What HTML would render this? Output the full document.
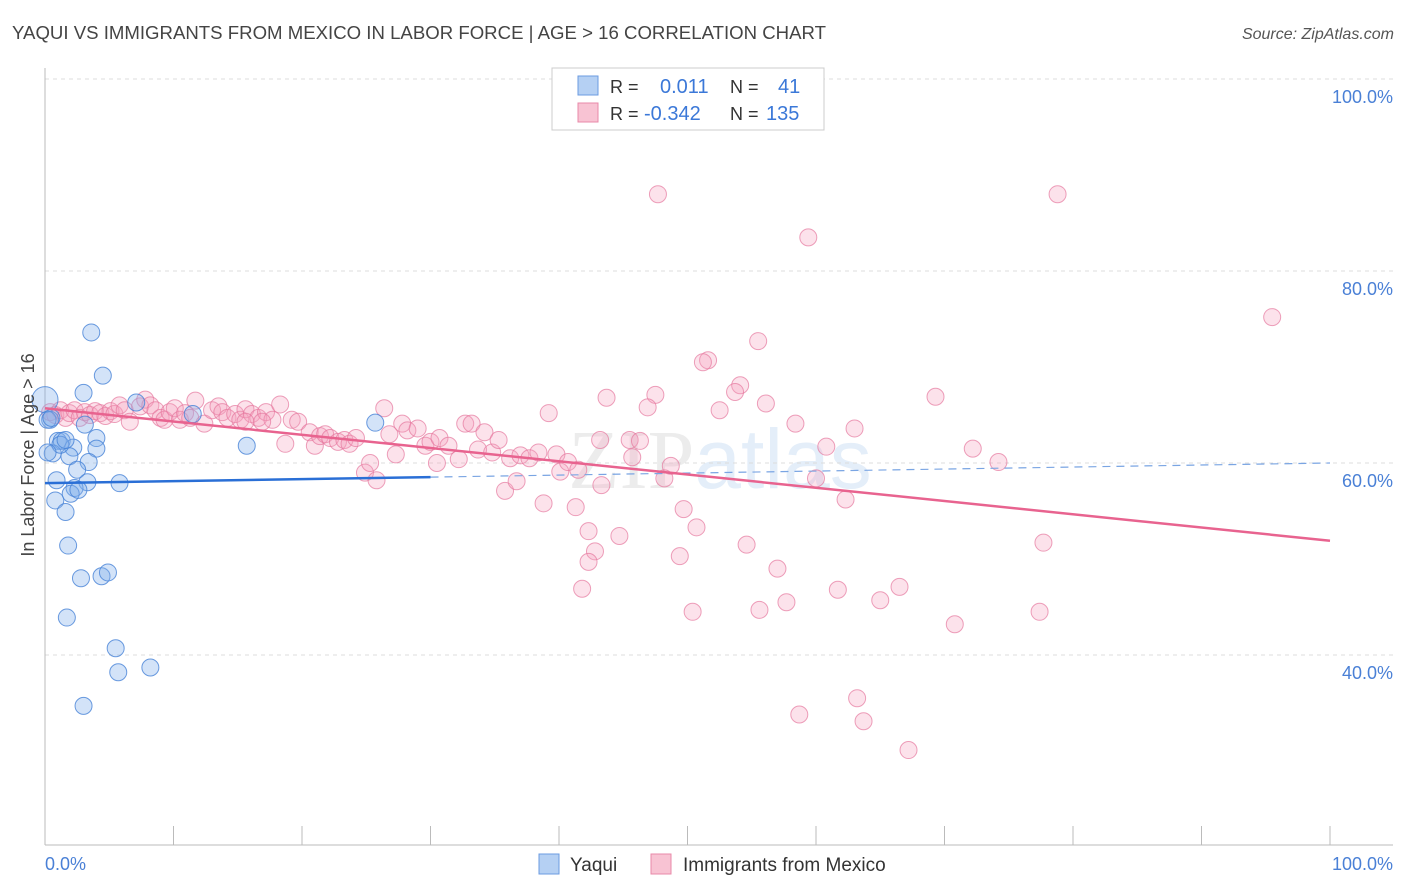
<!DOCTYPE html>
<html><head><meta charset="utf-8"><style>
body{margin:0;background:#fff;font-family:"Liberation Sans",sans-serif;}
#wrap{position:relative;width:1406px;height:892px;overflow:hidden;}
</style></head><body>
<div id="wrap">
<svg id="svg" width="1406" height="892" xmlns="http://www.w3.org/2000/svg">
<text x="12" y="39" font-size="18" fill="#444" textLength="814" lengthAdjust="spacingAndGlyphs">YAQUI VS IMMIGRANTS FROM MEXICO IN LABOR FORCE | AGE &gt; 16 CORRELATION CHART</text>
<text x="1394" y="39" font-size="16" fill="#555" font-style="italic" text-anchor="end">Source: ZipAtlas.com</text>
<text x="720" y="488" font-size="84" fill="#eef3f9" text-anchor="middle" font-family="Liberation Serif,serif"><tspan fill="#ececec">ZIP</tspan><tspan font-family="Liberation Sans,sans-serif" fill="#e4eef9">atlas</tspan></text>
<g id="grid"></g><g id="axes"></g><g id="pts"></g><g id="trends"></g>
<text transform="translate(34,455) rotate(-90)" font-size="18" fill="#444" text-anchor="middle">In Labor Force | Age &gt; 16</text>
<text x="45" y="870" font-size="18" fill="#4a80d6">0.0%</text>
<text x="1393" y="870" font-size="18" fill="#4a80d6" text-anchor="end">100.0%</text>
<g>
<rect x="552" y="68" width="272" height="62" fill="#fff" stroke="#ccc"/>
<rect x="578" y="76" width="20" height="19" fill="#b5d0f3" stroke="#6b9be0"/>
<rect x="578" y="103" width="20" height="19" fill="#f8c3d3" stroke="#e88aa8"/>
<text x="610" y="93" font-size="18" fill="#333">R =</text>
<text x="660" y="93" font-size="20" fill="#3b78d8">0.011</text>
<text x="730" y="93" font-size="18" fill="#333">N =</text>
<text x="778" y="93" font-size="20" fill="#3b78d8">41</text>
<text x="610" y="120" font-size="18" fill="#333">R =</text>
<text x="644" y="120" font-size="20" fill="#3b78d8">-0.342</text>
<text x="730" y="120" font-size="18" fill="#333">N =</text>
<text x="766" y="120" font-size="20" fill="#3b78d8">135</text>
</g>
<g>
<rect x="539" y="854" width="20" height="20" fill="#b5d0f3" stroke="#6b9be0"/>
<text x="570" y="871" font-size="19" fill="#333">Yaqui</text>
<rect x="651" y="854" width="20" height="20" fill="#f8c3d3" stroke="#e88aa8"/>
<text x="683" y="871" font-size="19" fill="#333">Immigrants from Mexico</text>
</g>
</svg>
</div>
<script>
const yTicks=[100,80,60,40];
const yTickLabels=["100.0%","80.0%","60.0%","40.0%"];
const xTicks=[0,10,20,30,40,50,60,70,80,90,100];
const yaquiX=[3.6,4.5,3.0,0,0.4,7.1,11.5,25.7,15.7,1.0,1.3,2.2,4.0,4.0,0.6,1.9,3.4,2.5,0.9,3.3,5.8,2.3,2.0,2.6,0.8,1.6,1.8,2.8,4.4,4.9,1.7,5.5,5.7,8.2,3.0,0.2,1.2,3.1,0.2,0.5,1.6];
const yaquiY=[73.6,69.1,67.3,66.6,64.5,66.3,65.1,64.2,61.8,62.3,62.3,61.6,62.6,61.5,61.0,60.7,60.1,59.3,58.2,58.0,57.9,57.4,56.8,57.2,56.1,54.9,51.4,48.0,48.2,48.6,43.9,40.7,38.2,38.7,34.7,64.5,61.9,64.0,61.1,64.7,62.4];
const mexX=[47.7,78.8,59.4,95.5,55.5,51.6,51.2,54.1,53.7,43.7,47.5,46.9,52.5,56.1,69.3,39.2,58.4,63.0,60.8,45.5,46.3,45.7,72.2,74.2,48.7,48.2,60.0,35.8,36.7,40.1,43.3,38.8,41.3,49.7,50.7,62.3,42.3,44.7,42.8,42.3,49.4,54.6,77.7,57.0,41.8,50.4,55.6,57.7,61.7,65.0,66.5,70.8,77.4,63.2,58.7,63.7,67.2,24.9,25.8,25.3,30.5,32.2,
0.4,0.8,1.2,1.6,1.9,2.3,2.7,3.1,3.5,3.9,4.3,4.7,5.1,5.4,5.8,6.2,6.6,7.4,7.8,8.2,8.6,9.0,9.3,9.7,10.1,10.5,10.9,11.3,11.7,12.4,13.0,13.5,13.8,14.2,14.8,15.2,15.6,16.1,16.6,17.2,17.7,18.3,18.7,19.2,19.7,20.6,21.0,21.4,21.8,22.2,22.8,23.3,23.7,24.2,26.4,26.8,27.3,27.8,28.2,29.0,29.6,30.0,30.7,31.4,32.7,33.2,33.7,34.2,34.8,35.3,36.2,37.0,37.7,38.4,39.8,40.7,41.5,43.2,15.6,16.9];
const mexY=[88.0,88.0,83.5,75.2,72.7,70.7,70.5,68.1,67.4,66.8,67.1,65.8,65.5,66.2,66.9,65.2,64.1,63.6,61.7,62.4,62.3,60.6,61.5,60.1,59.7,58.4,58.4,57.1,58.1,59.1,57.7,55.8,55.4,55.2,53.3,56.2,52.9,52.4,50.8,49.7,50.3,51.5,51.7,49.0,46.9,44.5,44.7,45.5,46.8,45.7,47.1,43.2,44.5,35.5,33.8,33.1,30.1,59.0,58.2,60.0,60.0,60.4,
65.3,65.0,65.5,64.7,65.2,65.5,64.7,65.3,65.0,65.4,65.2,64.9,65.4,65.1,66.0,65.5,64.3,65.9,66.6,66.0,65.5,64.7,64.5,65.3,65.7,64.5,65.2,64.7,66.5,64.1,65.5,65.9,65.3,64.7,65.1,64.5,65.6,65.1,64.7,65.3,64.5,66.1,62.0,64.5,64.3,63.2,61.8,62.8,63.0,62.6,62.2,62.4,62.0,62.6,65.7,63.0,60.9,64.1,63.4,63.6,61.8,62.2,62.6,61.8,64.1,64.1,61.4,63.2,61.1,62.4,60.5,60.8,60.5,61.1,60.9,60.1,59.3,62.4,64.3,64.3];
const yaquiTrend=[57.9,60.0];
const mexTrend=[65.7,51.9];
const NS="http://www.w3.org/2000/svg";
const X0=45,X1=1330,Ytop=79,PXPER=9.6;
const sx=v=>X0+(X1-X0)*v/100;
const sy=v=>Ytop+(100-v)*PXPER;
function mk(tag,attrs,parent){const e=document.createElementNS(NS,tag);for(const k in attrs)e.setAttribute(k,attrs[k]);parent.appendChild(e);return e;}
const grid=document.getElementById('grid'),axes=document.getElementById('axes'),pts=document.getElementById('pts'),tr=document.getElementById('trends');
yTicks.forEach((t,i)=>{
 const l=mk('line',{x1:45,x2:1393,y1:sy(t),y2:sy(t),stroke:'#dcdcdc','stroke-dasharray':'4,4'},grid);
 
 
 const tx=mk('text',{x:1393,y:sy(t)+24,'font-size':18,fill:'#4a80d6','text-anchor':'end'},grid);
 tx.textContent=yTickLabels[i];
 
 
});
const la=mk('line',{x1:45,x2:45,y1:68,y2:845,stroke:'#bbb'},axes);


const lb=mk('line',{x1:45,x2:1393,y1:845,y2:845,stroke:'#bbb'},axes);


xTicks.forEach(t=>{
 const l=mk('line',{x1:sx(t),x2:sx(t),y1:826,y2:845,stroke:'#bbb'},axes);
 
 
});
mexX.forEach((x,i)=>{
 const c=mk('circle',{cx:sx(x),cy:sy(mexY[i]),r:8.5,fill:'rgba(244,160,188,0.3)',stroke:'rgba(230,120,158,0.7)','stroke-width':1},pts);
 
 
});
yaquiX.forEach((x,i)=>{
 const c=mk('circle',{cx:sx(x),cy:sy(yaquiY[i]),r:(x===0?13:8.5),fill:'rgba(130,175,235,0.35)',stroke:'rgba(70,130,215,0.8)','stroke-width':1},pts);
 
 
});
const yAt=(tr_,x)=>tr_[0]+(tr_[1]-tr_[0])*x/100;
const t1=mk('line',{x1:sx(0),y1:sy(yAt(yaquiTrend,0)),x2:sx(30),y2:sy(yAt(yaquiTrend,30)),stroke:'#2a6fd6','stroke-width':2.5},tr);


const t2=mk('line',{x1:sx(30),y1:sy(yAt(yaquiTrend,30)),x2:sx(100),y2:sy(yAt(yaquiTrend,100)),stroke:'#7aa5e3','stroke-width':1.2,'stroke-dasharray':'8,6'},tr);


const t3=mk('line',{x1:sx(0),y1:sy(mexTrend[0]),x2:sx(100),y2:sy(mexTrend[1]),stroke:'#e8638f','stroke-width':2.5},tr);


</script>
</body></html>
